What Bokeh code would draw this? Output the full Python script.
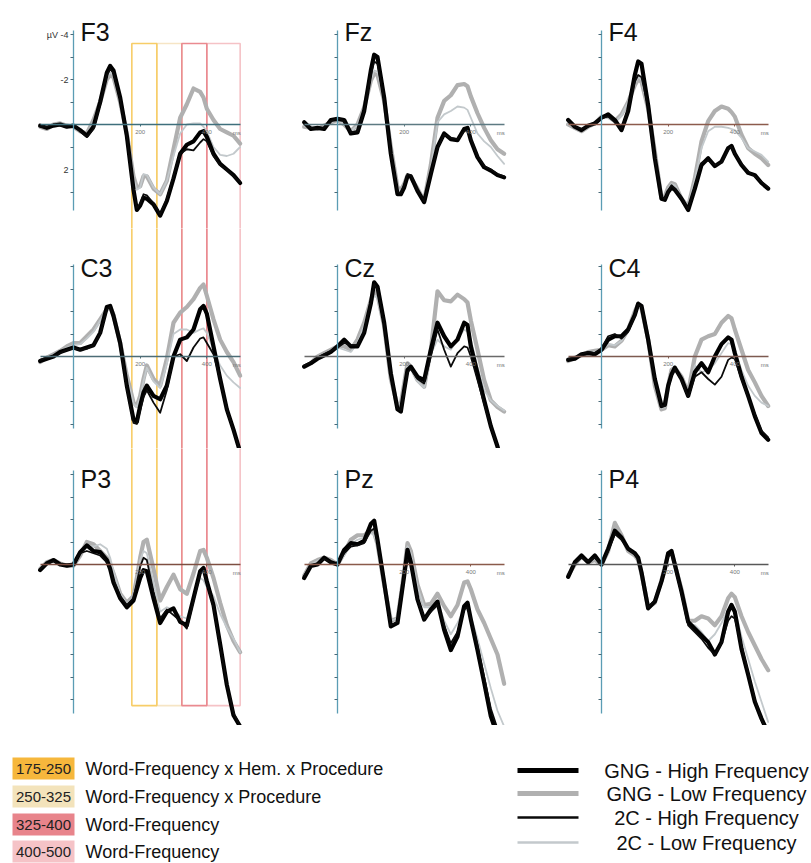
from bokeh.plotting import figure
from bokeh.models import Range1d, LinearAxis, FixedTicker, Label, ColumnDataSource
from bokeh.layouts import column, row
from bokeh.embed import file_html
from bokeh.resources import INLINE
from bokeh.core.properties import value

# ---------------- data ----------------
times = [-100, -80, -60, -40, -20, 0, 20, 40, 60, 80, 100, 110, 120, 140, 160, 180, 190, 200,
         210, 220, 240, 260, 280, 300, 320, 340, 360, 380, 390, 400, 420, 440, 460, 480, 500]

electrodes = ["F3", "Fz", "F4", "C3", "Cz", "C4", "P3", "Pz", "P4"]

conditions = ["GNG - High Frequency", "GNG - Low Frequency", "2C - High Frequency", "2C - Low Frequency"]

F3_gng_high = [0.05, 0.15, 0.05, 0.0, 0.1, 0.05, 0.25, 0.5, 0.1, -1.0, -2.3, -2.6, -2.4, -1.2, 0.5, 2.9, 3.8, 3.6, 3.25, 3.3, 3.55, 4.05, 3.4, 2.4, 1.3, 0.9, 0.75, 0.35, 0.3, 0.55, 1.3, 1.75, 2.0, 2.25, 2.6]
F3_gng_low = [0.1, 0.2, 0.0, -0.05, 0.05, 0.1, 0.3, 0.4, -0.2, -1.0, -2.0, -2.2, -2.1, -1.0, 0.4, 2.3, 2.8, 2.75, 2.3, 2.3, 2.85, 3.1, 2.5, 1.1, -0.3, -0.9, -1.6, -1.45, -1.2, -0.7, -0.2, 0.2, 0.35, 0.5, 0.85]
F3_2c_high = [0.1, 0.1, 0.0, 0.05, 0.1, 0.0, 0.3, 0.55, 0.2, -0.9, -2.2, -2.45, -2.3, -1.1, 0.5, 2.9, 3.7, 3.55, 3.1, 3.15, 3.5, 4.0, 3.3, 2.3, 1.3, 1.1, 1.15, 0.8, 0.65, 0.75, 1.4, 1.8, 2.0, 2.3, 2.55]
F3_2c_low = [0.05, 0.1, 0.0, 0.0, 0.05, 0.05, 0.3, 0.45, -0.1, -1.0, -2.1, -2.3, -2.2, -1.0, 0.4, 2.4, 2.9, 2.8, 2.2, 2.25, 2.8, 3.1, 2.5, 1.4, 0.4, 0.0, -0.05, -0.05, 0.1, 0.3, 1.0, 1.35, 1.4, 1.3, 1.0]

Fz_gng_high = [-0.1, 0.2, 0.15, 0.2, -0.2, -0.25, -0.2, 0.4, 0.35, -0.6, -2.4, -3.1, -3.0, -1.2, 1.3, 3.1, 3.1, 2.8, 2.3, 2.3, 2.95, 3.45, 2.2, 1.0, 0.4, 0.65, 0.7, 0.2, 0.15, 0.7, 1.45, 1.9, 2.05, 2.25, 2.35]
Fz_gng_low = [0.1, 0.15, 0.2, 0.05, -0.1, -0.2, 0.0, 0.3, 0.0, -0.75, -1.95, -2.25, -2.2, -1.05, 1.0, 2.8, 2.9, 2.65, 2.25, 2.35, 2.85, 3.4, 1.8, -0.3, -1.05, -1.3, -1.75, -1.8, -1.7, -1.25, -0.5, 0.15, 0.7, 1.1, 1.3]
Fz_2c_high = [-0.05, 0.15, 0.2, 0.15, -0.15, -0.3, -0.15, 0.35, 0.3, -0.6, -2.2, -2.8, -2.7, -1.1, 1.3, 3.0, 3.05, 2.7, 2.2, 2.25, 2.9, 3.4, 2.2, 1.05, 0.45, 0.6, 0.65, 0.3, 0.25, 0.65, 1.4, 1.85, 2.0, 2.2, 2.3]
Fz_2c_low = [0.05, 0.1, 0.15, 0.1, -0.1, -0.2, 0.0, 0.3, 0.05, -0.7, -2.0, -2.4, -2.35, -1.1, 1.0, 2.85, 2.95, 2.7, 2.25, 2.3, 2.9, 3.4, 2.0, -0.1, -0.45, -0.6, -0.8, -0.75, -0.65, -0.3, 0.4, 0.75, 1.0, 1.4, 1.75]

F4_gng_high = [-0.2, 0.1, 0.25, 0.05, -0.05, -0.3, -0.45, -0.2, 0.25, -0.6, -2.2, -2.8, -2.7, -0.85, 1.5, 3.3, 3.35, 3.0, 2.8, 2.9, 3.3, 3.8, 2.85, 1.8, 1.5, 1.85, 1.65, 1.05, 0.95, 1.3, 1.8, 2.15, 2.25, 2.6, 2.85]
F4_gng_low = [0.0, 0.15, 0.3, 0.1, -0.05, -0.35, -0.35, -0.15, -0.45, -1.0, -1.75, -2.0, -1.9, -0.7, 1.2, 3.3, 3.2, 2.8, 2.6, 2.65, 3.3, 3.65, 2.4, 0.75, -0.15, -0.6, -0.8, -0.7, -0.55, -0.35, 0.45, 1.05, 1.3, 1.5, 1.8]
F4_2c_high = [-0.15, 0.1, 0.2, 0.1, -0.05, -0.3, -0.35, -0.1, 0.2, -0.7, -1.9, -2.2, -2.1, -0.8, 1.5, 3.2, 3.3, 3.0, 2.7, 2.85, 3.25, 3.75, 2.8, 1.7, 1.6, 1.8, 1.7, 1.1, 1.0, 1.3, 1.75, 2.1, 2.3, 2.55, 2.8]
F4_2c_low = [0.0, 0.1, 0.25, 0.1, 0.0, -0.3, -0.3, -0.1, -0.4, -1.0, -1.85, -2.1, -2.0, -0.75, 1.25, 3.25, 3.2, 2.85, 2.65, 2.7, 3.25, 3.6, 2.45, 1.05, 0.3, 0.1, 0.1, 0.15, 0.2, 0.25, 0.6, 1.05, 1.2, 1.35, 1.65]

C3_gng_high = [0.2, 0.1, 0.0, -0.2, -0.3, -0.4, -0.3, -0.4, -0.5, -1.05, -2.2, -2.25, -1.8, -0.6, 1.3, 2.8, 2.9, 2.2, 1.6, 1.3, 1.75, 1.9, 1.3, 0.0, -0.75, -0.85, -1.2, -2.1, -2.25, -1.9, -0.45, 1.0, 2.35, 3.25, 4.25]
C3_gng_low = [0.25, 0.05, -0.1, -0.25, -0.45, -0.6, -0.6, -0.9, -1.2, -1.65, -2.1, -2.2, -1.85, -0.6, 0.85, 2.05, 2.2, 1.75, 1.0, 0.4, 1.0, 1.3, 0.1, -1.5, -1.95, -2.2, -2.55, -3.05, -3.2, -2.7, -1.65, -0.75, -0.2, 0.25, 0.85]
C3_2c_high = [0.15, 0.05, 0.0, -0.15, -0.3, -0.35, -0.3, -0.35, -0.5, -1.0, -2.1, -2.2, -1.8, -0.6, 1.4, 2.95, 3.0, 2.4, 1.8, 1.5, 2.05, 2.5, 1.5, 0.0, -0.1, 0.2, -0.4, -0.8, -0.85, -0.6, -0.1, 1.0, 2.35, 3.3, 4.2]
C3_2c_low = [0.2, 0.1, -0.05, -0.2, -0.4, -0.5, -0.55, -0.8, -1.1, -1.6, -2.05, -2.15, -1.8, -0.6, 0.9, 2.1, 2.25, 1.8, 1.1, 0.5, 1.1, 1.4, 0.3, -1.0, -1.2, -1.2, -1.05, -1.2, -1.25, -1.05, -0.3, 0.4, 0.85, 1.15, 1.4]

Cz_gng_high = [0.45, 0.3, 0.1, -0.05, -0.2, -0.45, -0.75, -0.45, -0.45, -1.05, -2.35, -3.3, -3.1, -1.5, 0.75, 2.35, 2.45, 1.5, 0.6, 0.45, 0.9, 1.05, -0.3, -1.5, -0.9, -0.45, -0.75, -1.5, -1.4, -0.45, 0.75, 1.95, 3.1, 4.0, 5.2]
Cz_gng_low = [0.45, 0.3, 0.0, -0.15, -0.3, -0.45, -0.45, -0.3, -0.75, -1.5, -2.5, -2.9, -2.75, -1.35, 1.0, 2.2, 2.1, 1.2, 0.3, 0.45, 1.05, 1.35, -0.3, -2.9, -2.5, -2.45, -2.75, -2.55, -2.4, -1.6, -0.3, 1.05, 1.95, 2.25, 2.45]
Cz_2c_high = [0.4, 0.25, 0.05, -0.1, -0.25, -0.4, -0.6, -0.5, -0.5, -1.1, -2.4, -3.2, -3.0, -1.4, 0.8, 2.3, 2.4, 1.6, 0.7, 0.55, 1.0, 1.2, 0.0, -1.2, -0.3, 0.45, -0.15, -0.45, -0.4, 0.0, 1.05, 2.1, 3.1, 4.0, 5.0]
Cz_2c_low = [0.4, 0.3, 0.05, -0.1, -0.25, -0.4, -0.3, -0.2, -0.6, -1.4, -2.3, -2.7, -2.6, -1.3, 0.9, 2.2, 2.1, 1.3, 0.4, 0.5, 1.1, 1.4, -0.1, -0.75, -0.45, -0.3, -0.75, -1.2, -1.1, -0.75, 0.45, 1.5, 1.95, 2.2, 2.4]

C4_gng_high = [0.15, 0.1, -0.1, -0.15, -0.1, -0.3, -0.75, -0.9, -0.9, -1.2, -1.85, -2.35, -2.25, -0.75, 1.0, 2.2, 2.15, 1.3, 0.8, 0.5, 1.0, 1.75, 0.7, 0.3, 0.7, 0.0, -0.55, -0.85, -0.75, -0.15, 0.9, 1.75, 2.65, 3.4, 3.7]
C4_gng_low = [0.2, 0.05, -0.05, -0.2, -0.25, -0.3, -0.5, -0.45, -0.7, -1.2, -2.0, -2.3, -2.15, -0.75, 1.3, 2.35, 2.3, 1.3, 0.6, 0.5, 0.9, 1.6, 0.0, -0.75, -0.9, -1.0, -1.5, -1.8, -1.7, -1.2, -0.3, 0.6, 1.15, 1.75, 2.2]
C4_2c_high = [0.1, 0.05, -0.1, -0.2, -0.15, -0.35, -0.9, -1.0, -0.8, -1.1, -1.8, -2.3, -2.2, -0.8, 1.05, 2.2, 2.2, 1.4, 0.85, 0.55, 1.05, 1.8, 0.9, 0.7, 1.0, 1.25, 0.9, 0.15, 0.05, 0.1, 1.0, 1.8, 2.55, 3.3, 3.6]
C4_2c_low = [0.15, 0.05, -0.05, -0.2, -0.2, -0.3, -0.55, -0.5, -0.7, -1.15, -1.95, -2.25, -2.1, -0.75, 1.25, 2.3, 2.25, 1.35, 0.7, 0.55, 0.95, 1.65, 0.4, 0.7, 0.6, 0.3, -0.15, -0.6, -0.55, -0.3, 0.6, 1.3, 1.75, 2.05, 2.2]

P3_gng_high = [0.25, -0.05, -0.2, 0.0, 0.05, 0.0, -0.55, -0.85, -0.6, -0.55, -0.2, 0.2, 0.8, 1.5, 1.9, 1.6, 1.1, 0.6, 0.25, 0.3, 1.5, 2.6, 2.1, 1.95, 2.55, 2.7, 1.5, 0.3, 0.15, 0.75, 1.8, 3.55, 5.35, 6.7, 7.2]
P3_gng_low = [0.2, -0.1, -0.2, -0.05, 0.05, 0.05, -0.4, -1.0, -0.9, -0.6, -0.3, 0.0, 0.4, 1.3, 1.7, 1.4, 0.6, -0.3, -1.0, -1.1, 0.2, 1.6, 1.0, 0.45, 1.1, 1.3, 0.4, -0.6, -0.65, -0.3, 0.6, 1.7, 2.7, 3.4, 3.9]
P3_2c_high = [0.2, -0.05, -0.15, 0.0, 0.0, 0.0, -0.5, -0.6, -0.5, -0.4, -0.1, 0.2, 0.7, 1.4, 1.8, 1.5, 0.8, 0.1, -0.3, -0.2, 1.2, 2.4, 2.0, 2.25, 2.5, 2.85, 1.6, 0.4, 0.25, 0.8, 1.9, 3.6, 5.3, 6.6, 7.2]
P3_2c_low = [0.2, -0.05, -0.15, 0.0, 0.05, 0.0, -0.45, -0.8, -0.8, -0.9, -0.7, -0.3, 0.3, 1.3, 1.75, 1.45, 0.7, -0.2, -0.6, -0.5, 0.8, 2.1, 1.9, 2.0, 2.3, 2.4, 1.5, 0.6, 0.7, 1.0, 1.4, 2.2, 2.8, 3.3, 3.9]

Pz_gng_high = [0.6, 0.07, 0.0, -0.3, -0.1, 0.0, -0.65, -0.95, -0.9, -1.05, -1.8, -1.95, -1.1, 0.8, 2.75, 2.6, 1.55, 0.5, -0.65, -0.1, 1.55, 2.45, 2.0, 1.65, 2.9, 3.8, 3.2, 1.85, 1.7, 2.45, 3.8, 5.25, 6.75, 7.6, 8.3]
Pz_gng_low = [0.5, -0.05, -0.2, -0.3, -0.2, 0.0, -0.5, -1.1, -1.3, -1.3, -1.5, -1.4, -0.9, 0.9, 2.5, 2.4, 1.4, 0.3, -0.95, -0.6, 0.9, 1.8, 1.75, 1.3, 1.85, 2.3, 1.8, 0.8, 0.75, 1.1, 2.0, 2.6, 3.3, 4.0, 5.3]
Pz_2c_high = [0.5, 0.05, -0.05, -0.25, -0.1, 0.0, -0.5, -0.8, -0.85, -0.95, -1.5, -1.6, -1.0, 0.8, 2.7, 2.55, 1.5, 0.55, -0.2, 0.0, 1.5, 2.4, 2.1, 1.8, 2.7, 3.5, 3.0, 2.0, 1.9, 2.4, 3.6, 5.0, 6.4, 7.3, 8.0]
Pz_2c_low = [0.45, 0.0, -0.15, -0.3, -0.15, 0.0, -0.4, -0.9, -1.1, -1.2, -1.4, -1.3, -0.9, 0.9, 2.5, 2.4, 1.4, 0.4, -0.8, -0.5, 1.0, 1.9, 1.9, 1.6, 2.5, 3.1, 2.6, 2.0, 2.0, 2.3, 3.3, 4.4, 5.5, 6.5, 7.2]

P4_gng_high = [0.55, -0.1, -0.4, -0.1, -0.4, 0.0, -0.7, -1.5, -1.2, -0.7, -0.5, -0.3, 0.35, 1.95, 1.65, 0.75, 0.2, -0.5, -0.6, 0.0, 1.2, 2.55, 2.85, 3.15, 3.45, 4.0, 3.45, 2.1, 1.8, 2.1, 3.75, 4.9, 6.1, 6.85, 7.5]
P4_gng_low = [0.5, 0.0, -0.35, -0.1, -0.2, 0.0, -0.6, -1.85, -1.3, -0.6, -0.4, -0.2, 0.4, 1.9, 1.7, 0.7, 0.1, -0.45, -0.55, 0.0, 1.1, 2.5, 2.5, 2.3, 2.4, 2.7, 2.3, 1.5, 1.3, 1.45, 2.3, 3.0, 3.6, 4.2, 4.7]
P4_2c_high = [0.45, -0.05, -0.3, -0.15, -0.3, 0.0, -0.6, -1.35, -1.1, -0.7, -0.45, -0.25, 0.4, 1.9, 1.6, 0.7, 0.15, -0.35, -0.45, 0.1, 1.3, 2.7, 3.0, 3.3, 3.7, 4.0, 3.5, 2.5, 2.3, 2.4, 3.6, 4.8, 6.0, 6.9, 7.5]
P4_2c_low = [0.5, 0.0, -0.3, -0.1, -0.25, 0.0, -0.55, -1.6, -1.25, -0.65, -0.45, -0.25, 0.35, 1.85, 1.65, 0.7, 0.15, -0.4, -0.5, 0.05, 1.2, 2.6, 2.7, 3.0, 3.4, 3.1, 2.6, 2.0, 1.9, 2.0, 3.2, 4.2, 5.2, 6.1, 7.0]

# analysis windows (ms) and their effects
window_start = [175, 250, 325, 400]
window_end = [250, 325, 400, 500]
window_labels = ["175-250", "250-325", "325-400", "400-500"]
window_effects = ["Word-Frequency x Hem. x Procedure", "Word-Frequency x Procedure",
                  "Word-Frequency", "Word-Frequency"]

series = {
    "F3": [F3_gng_high, F3_gng_low, F3_2c_high, F3_2c_low],
    "Fz": [Fz_gng_high, Fz_gng_low, Fz_2c_high, Fz_2c_low],
    "F4": [F4_gng_high, F4_gng_low, F4_2c_high, F4_2c_low],
    "C3": [C3_gng_high, C3_gng_low, C3_2c_high, C3_2c_low],
    "Cz": [Cz_gng_high, Cz_gng_low, Cz_2c_high, Cz_2c_low],
    "C4": [C4_gng_high, C4_gng_low, C4_2c_high, C4_2c_low],
    "P3": [P3_gng_high, P3_gng_low, P3_2c_high, P3_2c_low],
    "Pz": [Pz_gng_high, Pz_gng_low, Pz_2c_high, Pz_2c_low],
    "P4": [P4_gng_high, P4_gng_low, P4_2c_high, P4_2c_low],
}

# ---------------- styles / layout ----------------
FONT = "Liberation Sans"
COL_W = [264, 264, 283]
ROW_H = [228, 220, 277]
LEG_H = 138
ZERO_X = 73          # px from panel left edge to 0 ms
MS_PER_PX = 3.0
ZERO_Y = [124, 128, 116]   # px from panel top to 0 uV
PX_PER_UV = 22.5
YAX_BOUNDS = [(-4.2, 3.8), (-4.1, 3.2), (-4.2, 6.6)]
TITLE_DROP = [31, 39, 30]
YAX_COLOR = "#5b9db4"
XAX_COLORS = ["#3f6f7c", "#5d7a82", "#8c5b4c",
              "#4d6c76", "#6a6a6a", "#7d5a50",
              "#7e4f42", "#8a5a4a", "#585858"]
# draw order: GNG low, 2C low, GNG high, 2C high
LINE_ORDER = [1, 3, 0, 2]
LINE_COLOR = ["#000000", "#b0b0b0", "#0a0a0a", "#c3c9cc"]
LINE_WIDTH = [4.2, 4.2, 1.8, 1.8]
WIN_OUTLINE = ["#f7cd68", "#f6e5c5", "#ea8a90", "#f5c2c6"]
WIN_FILL = ["#f6b73c", "#f3e3bb", "#e8848b", "#f5c3c7"]
WIN_ORDER = [1, 3, 0, 2]
BOX_TOP_UV = -3.6
BOX_BOTTOM_UV = 6.27


def make_panel(r, c):
    name = electrodes[3 * r + c]
    w, h = COL_W[c], ROW_H[r]
    xr = Range1d(-ZERO_X * MS_PER_PX, (w - ZERO_X) * MS_PER_PX)
    yr = Range1d((h - ZERO_Y[r]) / PX_PER_UV, -ZERO_Y[r] / PX_PER_UV)
    p = figure(width=w, height=h, x_range=xr, y_range=yr, output_backend="svg",
               toolbar_location=None, x_axis_type=None, y_axis_type=None,
               min_border=0, outline_line_color=None,
               background_fill_color="white", border_fill_color="white")
    p.grid.visible = False

    # analysis-window outlines in the left column
    if c == 0:
        top = BOX_TOP_UV if r == 0 else yr.end - 1
        bottom = BOX_BOTTOM_UV if r == 2 else yr.start + 1
        for i in WIN_ORDER:
            p.quad(left=[window_start[i]], right=[window_end[i]], top=[top], bottom=[bottom],
                   fill_color=None, line_color=WIN_OUTLINE[i], line_width=1.6)

    # axes drawn at 0 ms and 0 uV
    lo, hi = YAX_BOUNDS[r]
    yt = [t for t in range(-6, 8) if lo <= t <= hi and t != 0]
    overrides = {}
    for t in yt:
        if name == "F3" and t in (-4, -2, 2):
            overrides[t] = ("\u00b5V -4" if t == -4 else str(t))
        else:
            overrides[t] = ""
    yax = LinearAxis(fixed_location=0, bounds=(lo, hi),
                     ticker=FixedTicker(ticks=yt, minor_ticks=[]),
                     major_label_overrides=overrides,
                     axis_line_color=YAX_COLOR, axis_line_width=1.3,
                     major_tick_line_color="#4a6a78", major_tick_out=3, major_tick_in=0,
                     minor_tick_out=0, minor_tick_in=0,
                     major_label_text_font=FONT, major_label_text_font_size="9px",
                     major_label_text_color="#333333", major_label_standoff=2)
    p.add_layout(yax, "left")

    xax = LinearAxis(fixed_location=0, bounds=(-100, 500),
                     ticker=FixedTicker(ticks=[200, 400], minor_ticks=[]),
                     axis_line_color=XAX_COLORS[3 * r + c], axis_line_width=1.4,
                     major_tick_line_color=XAX_COLORS[3 * r + c], major_tick_out=2, major_tick_in=0,
                     minor_tick_out=0, minor_tick_in=0,
                     major_label_text_font=FONT, major_label_text_font_size="6px",
                     major_label_text_color="#777777", major_label_standoff=3)
    p.add_layout(xax, "below")
    p.add_layout(Label(x=490, y=0, text="ms", text_font=FONT, text_font_size="6px",
                       text_color="#777777", text_align="center", text_baseline="top",
                       y_offset=-5))

    # waveforms
    data = series[name]
    for k in LINE_ORDER:
        p.line(times, data[k], line_color=LINE_COLOR[k], line_width=LINE_WIDTH[k],
               line_join="round", line_cap="round")

    p.add_layout(Label(x=0, y=yr.end, text=name, text_font=FONT, text_font_size="25px",
                       text_color="#111111", text_baseline="alphabetic",
                       x_offset=7, y_offset=-TITLE_DROP[r]))
    return p


rows = []
for r in range(3):
    rows.append(row(*[make_panel(r, c) for c in range(3)]))

# ---------------- legend strip ----------------
LEG_W = sum(COL_W)
leg = figure(width=LEG_W, height=LEG_H, x_range=Range1d(0, LEG_W), y_range=Range1d(LEG_H, 0),
             output_backend="svg", toolbar_location=None, x_axis_type=None, y_axis_type=None,
             min_border=0, outline_line_color=None,
             background_fill_color="white", border_fill_color="white")
leg.grid.visible = False

left_rows = [43, 71, 99, 126]
left_src = ColumnDataSource(dict(
    y=left_rows,
    top=[v - 11 for v in left_rows],
    bottom=[v + 11 for v in left_rows],
    fill=WIN_FILL, label=window_labels, effect=window_effects))
leg.quad(left=12, right=74, top="top", bottom="bottom", fill_color="fill",
         line_color=None, source=left_src)
leg.text(x=43, y="y", text="label", source=left_src, text_font=value(FONT),
         text_font_size="15px", text_color="#222222", text_align="center",
         text_baseline="middle")
leg.text(x=85, y="y", text="effect", source=left_src, text_font=value(FONT),
         text_font_size="18px", text_color="#111111", text_align="left",
         text_baseline="middle")

right_rows = [45, 68, 92, 117]
right_src = ColumnDataSource(dict(
    y=right_rows, color=LINE_COLOR, width=[5, 5, 2.5, 2.5], label=conditions))
leg.segment(x0=517, x1=578, y0="y", y1="y", line_color="color", line_width="width",
            source=right_src)
leg.text(x=706, y="y", text="label", source=right_src, text_font=value(FONT),
         text_font_size="20px", text_color="#111111", text_align="center",
         text_baseline="middle")

layout = column(*rows, leg)
open("out.html", "w").write(file_html(layout, INLINE))
